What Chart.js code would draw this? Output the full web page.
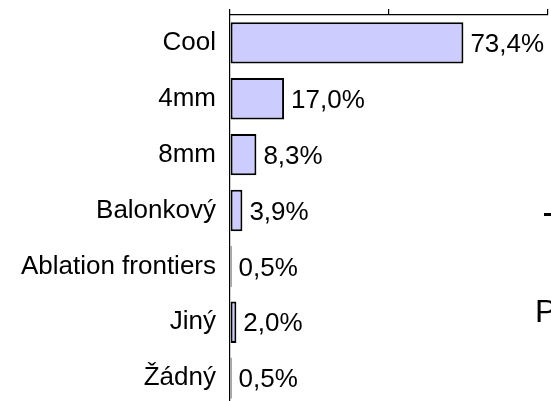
<!DOCTYPE html>
<html>
<head>
<meta charset="utf-8">
<script src="https://cdn.jsdelivr.net/npm/chart.js@4"></script>
<style>
  html, body { margin: 0; padding: 0; background: #fff; overflow: hidden; }
  #wrap { position: relative; width: 551px; height: 406px; }
</style>
</head>
<body>
<div id="wrap"><canvas id="chart"></canvas></div>
<script>
// hodnoty z obrázku
const categories = ['Cool', '4mm', '8mm', 'Balonkový', 'Ablation frontiers', 'Jiný', 'Žádný'];
const values = [73.4, 17.0, 8.3, 3.9, 0.5, 2.0, 0.5];
const axisMin = 0;
const axisMax = 100;
const axisStep = 50;

const FONT = '"Liberation Sans", Arial, sans-serif';

// popisky za koncem sloupců
const valueLabels = {
  id: 'valueLabels',
  afterDatasetsDraw(chart) {
    const ctx = chart.ctx;
    const meta = chart.getDatasetMeta(0);
    ctx.save();
    ctx.font = '26px ' + FONT;
    ctx.fillStyle = '#000';
    ctx.textAlign = 'left';
    ctx.textBaseline = 'middle';
    meta.data.forEach((bar, i) => {
      const txt = values[i].toFixed(1).replace('.', ',') + '%';
      ctx.fillText(txt, bar.x + 7, bar.y + 2);
    });
    ctx.restore();
  }
};

// zbytek legendy, který je v originále oříznutý
const cutLegend = {
  id: 'cutLegend',
  afterDraw(chart) {
    const ctx = chart.ctx;
    ctx.save();
    ctx.fillStyle = '#000';
    ctx.fillRect(544, 213, 8, 3);
    ctx.font = '32px ' + FONT;
    ctx.textBaseline = 'alphabetic';
    ctx.fillText('P', 535, 322);
    ctx.restore();
  }
};

new Chart(document.getElementById('chart'), {
  type: 'bar',
  data: {
    labels: categories,
    datasets: [{
      data: values,
      backgroundColor: '#ccccff',
      borderColor: '#000',
      borderWidth: 2,
      borderSkipped: false,
      barPercentage: 0.74,
      categoryPercentage: 1
    }]
  },
  options: {
    indexAxis: 'y',
    responsive: true,
    maintainAspectRatio: false,
    animation: false,
    layout: { padding: { left: 0, right: 3, top: 0, bottom: 0 } },
    plugins: {
      legend: { display: false },
      tooltip: { enabled: false }
    },
    scales: {
      x: {
        position: 'top',
        min: axisMin,
        max: axisMax,
        ticks: { display: false, stepSize: axisStep },
        grid: { drawOnChartArea: false, drawTicks: true, tickLength: 6, color: '#000', lineWidth: 1.2 },
        border: { color: '#000', width: 1.2 },
        afterFit(scale) {
          scale.height = 15;
          scale.paddingLeft = 0; scale.paddingRight = 0;
        }
      },
      y: {
        ticks: { color: '#000', font: { family: FONT, size: 26 }, padding: 14 },
        grid: { drawOnChartArea: false, drawTicks: false },
        border: { color: '#000', width: 1.2 },
        afterFit(scale) {
          scale.width = 230;
          scale.paddingTop = 0; scale.paddingBottom = 0;
        }
      }
    }
  },
  plugins: [valueLabels, cutLegend]
});
</script>
</body>
</html>
